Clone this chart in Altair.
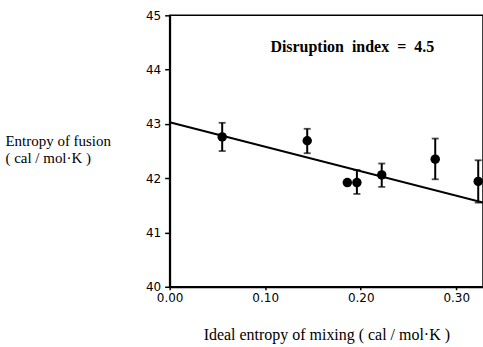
import altair as alt
import pandas as pd

# Data
x_vals = [0.055, 0.144, 0.186, 0.196, 0.222, 0.278, 0.323]
y_vals = [42.76, 42.69, 41.92, 41.92, 42.06, 42.35, 41.94]
err_lo = [42.50, 42.46, None, 41.71, 41.84, 41.98, 41.55]
err_hi = [43.02, 42.91, None, 42.15, 42.27, 42.73, 42.33]

fit_x = [0.0, 0.328]
fit_y = [43.03, 41.55]

x_ticks = [0.0, 0.1, 0.2, 0.3]
y_ticks = [40, 41, 42, 43, 44, 45]

pts = pd.DataFrame({"x": x_vals, "y": y_vals, "lo": err_lo, "hi": err_hi})
errs = pts.dropna()
fit = pd.DataFrame({"x": fit_x, "y": fit_y})

xscale = alt.Scale(domain=[0, 0.328], nice=False, zero=False)
yscale = alt.Scale(domain=[40, 45], nice=False, zero=False)

xaxis = alt.Axis(values=x_ticks, format=".2f", title="Ideal entropy of mixing ( cal / mol·K )",
                 titleFont="Liberation Serif", titleFontSize=16, titleFontWeight="normal",
                 titleColor="black", titlePadding=23, tickSize=3, labelPadding=3, labelFlush=False)
yaxis = alt.Axis(values=y_ticks, format="d", title=["Entropy of fusion", "\u00a0( cal / mol·K )"],
                 titleFont="Liberation Serif", titleFontSize=15, titleFontWeight="normal",
                 titleColor="black", titleAngle=0, titleAlign="left", titleBaseline="alphabetic",
                 titleX=-165, titleY=130, titleLineHeight=17, tickSize=5, labelPadding=4, labelFlush=False)

X = alt.X("x:Q", scale=xscale, axis=xaxis)
Y = alt.Y("y:Q", scale=yscale, axis=yaxis)

line = alt.Chart(fit).mark_line(color="black", strokeWidth=2, clip=True).encode(x=X, y=Y)

bars = alt.Chart(errs).mark_rule(color="black", strokeWidth=2).encode(
    x=alt.X("x:Q", scale=xscale), y=alt.Y("lo:Q", scale=yscale), y2="hi:Q")
cap_hi = alt.Chart(errs).mark_tick(color="black", orient="horizontal", size=7, thickness=1.8).encode(
    x=alt.X("x:Q", scale=xscale), y=alt.Y("hi:Q", scale=yscale))
cap_lo = alt.Chart(errs).mark_tick(color="black", orient="horizontal", size=7, thickness=1.8).encode(
    x=alt.X("x:Q", scale=xscale), y=alt.Y("lo:Q", scale=yscale))

points = alt.Chart(pts).mark_circle(color="black", opacity=1, size=90).encode(
    x=alt.X("x:Q", scale=xscale), y=alt.Y("y:Q", scale=yscale))

label = alt.Chart(pd.DataFrame({"t": ["Disruption\u00a0\u00a0index\u00a0\u00a0=\u00a0\u00a04.5"]})).mark_text(
    font="Liberation Serif", fontSize=16, fontWeight="bold", color="black", align="center", baseline="middle"
).encode(x=alt.value(183), y=alt.value(32), text="t:N")

chart = alt.layer(line, bars, cap_hi, cap_lo, points, label).properties(
    width=314, height=272,
    autosize=alt.AutoSizeParams(type="none"),
    padding={"left": 170, "top": 15, "right": 0, "bottom": 60},
    background="white",
).configure_axis(
    grid=False, domainColor="black", domainWidth=2, tickColor="black", tickWidth=1.5,
    labelFont="DejaVu Sans", labelFontSize=12, labelColor="black",
).configure_view(stroke="black", strokeWidth=1.5)

chart.save("out.html", embed_options={"renderer": "svg", "actions": False})
